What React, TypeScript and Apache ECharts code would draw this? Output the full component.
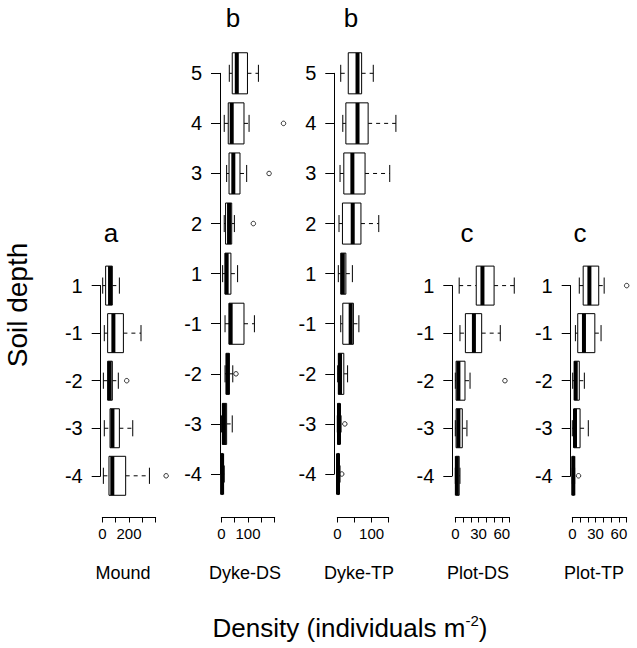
import React, { useEffect, useRef } from "react";
import * as echarts from "echarts";

// ---- data ----
const depthAll = ["5", "4", "3", "2", "1", "-1", "-2", "-3", "-4"];
const depthLower = ["1", "-1", "-2", "-3", "-4"];
const panelNames = ["Mound", "Dyke-DS", "Dyke-TP", "Plot-DS", "Plot-TP"];
const panelLetters = ["a", "b", "b", "c", "c"];

// [low whisker, Q1, median, Q3, high whisker] per depth row (top to bottom)
const moundBox = [
  [3, 25, 58, 75, 128],
  [15, 40, 83, 158, 290],
  [8, 40, 55, 75, 120],
  [15, 58, 76, 128, 228],
  [8, 50, 75, 175, 353],
];
const moundOut = [[2, 183], [4, 478]];

const dykeDSBox = [
  [30, 41, 58, 98, 139],
  [11, 26, 39, 85, 104],
  [20, 29, 45, 70, 95],
  [11, 16, 29, 39, 49],
  [5, 14, 20, 36, 61],
  [14, 29, 35, 85, 124],
  [14, 18, 24, 30, 43],
  [1, 4, 10, 20, 41],
  [0, 0, 3, 6, 11],
];
const dykeDSOut = [[1, 233], [2, 179], [3, 120], [6, 55]];

const dykeTPBox = [
  [10, 32, 59, 71, 105],
  [16, 25, 59, 90, 171],
  [8, 19, 44, 81, 153],
  [5, 15, 45, 69, 121],
  [3, 10, 16, 25, 44],
  [10, 16, 39, 47, 63],
  [1, 3, 8, 19, 30],
  [0, 1, 5, 8, 11],
  [0, 0, 2, 5, 8],
];
const dykeTPOut = [[7, 22], [8, 13]];

const plotDSBox = [
  [5, 27, 35, 50, 76],
  [6, 13, 24, 34, 58],
  [0, 1, 4, 12.5, 19],
  [0, 1, 4, 9, 15],
  [0, 0.5, 2, 5, 6],
];
const plotDSOut = [[2, 64]];

const plotTPBox = [
  [9, 14, 22, 34, 41],
  [4, 7, 15, 29, 37],
  [0.5, 2.6, 4.4, 9, 15.5],
  [0, 2, 3.5, 10, 20.6],
  [0, 0, 1.3, 2.6, 3],
];
const plotTPOut = [[0, 70], [4, 8]];

const xMax = [400, 200, 150, 70, 70];
const xStep = [100, 50, 50, 10, 10];
const xShownLabels = [[0, 200], [0, 100], [0, 100], [0, 30, 60], [0, 30, 60]];

const panelBoxes = [moundBox, dykeDSBox, dykeTPBox, plotDSBox, plotTPBox];
const panelOut = [moundOut, dykeDSOut, dykeTPOut, plotDSOut, plotTPOut];
const panelRows = [depthLower, depthAll, depthAll, depthLower, depthLower];

// ---- layout (pixels) ----
const layout = [
  { left: 102.3, width: 53.4, top: 285.6, height: 190.2, yOff: 1.6, lx: 111, ly: 233 },
  { left: 221.3, width: 53.4, top: 73.3, height: 400.7, yOff: 1.3, lx: 233, ly: 18 },
  { left: 337.3, width: 51.4, top: 73.3, height: 400.7, yOff: 3, lx: 351, ly: 18 },
  { left: 455.3, width: 54.3, top: 285.6, height: 190.2, yOff: 3, lx: 467, ly: 233 },
  { left: 572.3, width: 54.4, top: 285.6, height: 190.2, yOff: 1.6, lx: 580, ly: 233 },
];
const nameX = [123, 245, 359, 478, 594];
const AXIS_Y = 517.5;
const FONT = "'Liberation Sans', Arial, Helvetica, sans-serif";

function renderBox(params: any, api: any) {
  const row = api.value(0);
  const pLo = api.coord([api.value(1), row]);
  const pQ1 = api.coord([api.value(2), row]);
  const pMd = api.coord([api.value(3), row]);
  const pQ3 = api.coord([api.value(4), row]);
  const pHi = api.coord([api.value(5), row]);
  const unit = Math.abs(api.size([0, 1])[1]);
  const hh = unit * 0.41;
  const sh = unit * 0.17;
  const y = pMd[1];
  const thin = { stroke: "#000", lineWidth: 1 };
  const dashed = { stroke: "#000", lineWidth: 1, lineDash: [4, 4] };
  return {
    type: "group",
    children: [
      { type: "line", shape: { x1: pLo[0], y1: y, x2: pQ1[0], y2: y }, style: dashed },
      { type: "line", shape: { x1: pQ3[0], y1: y, x2: pHi[0], y2: y }, style: dashed },
      { type: "line", shape: { x1: pLo[0], y1: y - sh, x2: pLo[0], y2: y + sh }, style: thin },
      { type: "line", shape: { x1: pHi[0], y1: y - sh, x2: pHi[0], y2: y + sh }, style: thin },
      {
        type: "rect",
        shape: { x: pQ1[0], y: y - hh, width: Math.max(pQ3[0] - pQ1[0], 0.5), height: hh * 2 },
        style: { fill: "#fff", stroke: "#000", lineWidth: 1 },
      },
      { type: "line", shape: { x1: pMd[0], y1: y - hh, x2: pMd[0], y2: y + hh }, style: { stroke: "#000", lineWidth: 4 } },
    ],
  };
}

export default function App() {
  const ref = useRef<HTMLDivElement>(null);
  useEffect(() => {
    if (!ref.current) return;
    const chart = echarts.init(ref.current, null, { renderer: "svg" });
    const grid: any[] = [];
    const xAxis: any[] = [];
    const yAxis: any[] = [];
    const series: any[] = [];
    const graphic: any[] = [];
    layout.forEach((g, i) => {
      const rows = panelRows[i];
      grid.push({ left: g.left, width: g.width, top: g.top, height: g.height });
      const shown = xShownLabels[i];
      xAxis.push({
        gridIndex: i,
        type: "value",
        min: 0,
        max: xMax[i],
        interval: xStep[i],
        position: "bottom",
        offset: AXIS_Y - (g.top + g.height),
        axisLine: { show: true, onZero: false, lineStyle: { color: "#000", width: 1 } },
        axisTick: { show: true, length: 5, lineStyle: { color: "#000" } },
        splitLine: { show: false },
        axisLabel: {
          color: "#000",
          fontSize: 15,
          fontFamily: FONT,
          margin: 8,
          showMinLabel: true,
          showMaxLabel: true,
          hideOverlap: false,
          formatter: (v: number) => (shown.indexOf(v) >= 0 ? String(v) : ""),
        },
      });
      yAxis.push({
        gridIndex: i,
        type: "value",
        min: 0,
        max: rows.length - 1,
        interval: 1,
        inverse: true,
        position: "left",
        offset: g.yOff,
        axisLine: { show: true, onZero: false, lineStyle: { color: "#000", width: 1 } },
        axisTick: { show: true, length: 9, lineStyle: { color: "#000" } },
        splitLine: { show: false },
        axisLabel: {
          color: "#000",
          fontSize: 20,
          fontFamily: FONT,
          margin: 18,
          formatter: (v: number) => rows[v] ?? "",
        },
      });
      series.push({
        type: "custom",
        xAxisIndex: i,
        yAxisIndex: i,
        clip: false,
        renderItem: renderBox,
        encode: { x: [1, 2, 3, 4, 5], y: 0 },
        data: panelBoxes[i].map((b, r) => [r, ...b]),
        z: 2,
      });
      series.push({
        type: "scatter",
        xAxisIndex: i,
        yAxisIndex: i,
        clip: false,
        symbol: "circle",
        symbolSize: 4.5,
        itemStyle: { color: "rgba(0,0,0,0)", borderColor: "#000", borderWidth: 1 },
        data: panelOut[i].map((o) => [o[1], o[0]]),
        z: 3,
      });
      graphic.push({
        type: "text",
        x: g.lx,
        y: g.ly,
        style: { text: panelLetters[i], fontSize: 26, fontFamily: FONT, fill: "#000", align: "center", verticalAlign: "middle" },
      });
      graphic.push({
        type: "text",
        x: nameX[i],
        y: 573,
        style: { text: panelNames[i], fontSize: 18, fontFamily: FONT, fill: "#000", align: "center", verticalAlign: "middle" },
      });
    });
    graphic.push({
      type: "text",
      x: 17,
      y: 305,
      rotation: Math.PI / 2,
      style: { text: "Soil depth", fontSize: 28, fontFamily: FONT, fill: "#000", align: "center", verticalAlign: "middle" },
    });
    graphic.push({
      type: "text",
      x: 350,
      y: 628,
      style: {
        text: "Density (individuals m{sup|-2})",
        fontSize: 26,
        fontFamily: FONT,
        fill: "#000",
        align: "center",
        verticalAlign: "middle",
        lineHeight: 30,
        rich: {
          sup: { fontSize: 15, fontFamily: FONT, fill: "#000", verticalAlign: "top", lineHeight: 30 },
        },
      },
    });
    chart.setOption({
      animation: false,
      backgroundColor: "#fff",
      grid,
      xAxis,
      yAxis,
      series,
      graphic,
    });
    return () => chart.dispose();
  }, []);
  return (
    <div
      ref={ref}
      style={{ position: "fixed", left: 0, top: 0, width: 637, height: 648, background: "#fff" }}
    />
  );
}
